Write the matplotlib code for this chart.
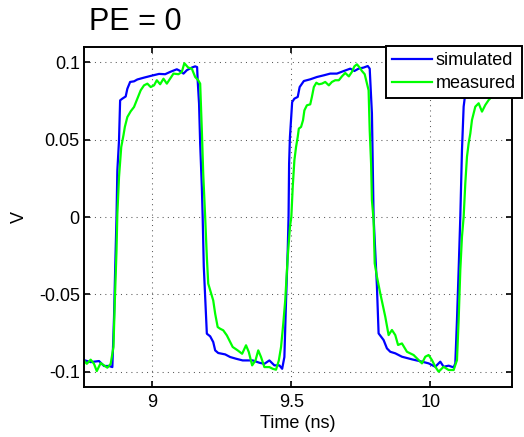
import numpy as np
import matplotlib
matplotlib.use('Agg')
import matplotlib.pyplot as plt

plt.rcParams['font.family'] = ['Liberation Sans', 'DejaVu Sans']

# simulated waveform (ns, V)
sim_t = [8.754, 8.778, 8.808, 8.826, 8.844, 8.856, 8.862, 8.866, 8.871, 8.874,
         8.880, 8.884, 8.892, 8.904, 8.910, 8.920, 8.934, 8.946, 8.970, 8.994,
         9.024, 9.046, 9.064, 9.088, 9.100, 9.112, 9.124, 9.142, 9.154, 9.161,
         9.163, 9.168, 9.172, 9.178, 9.181, 9.185, 9.190, 9.196, 9.208, 9.219,
         9.226, 9.237, 9.262, 9.280, 9.301, 9.325, 9.361, 9.385, 9.403, 9.421,
         9.439, 9.457, 9.467, 9.475, 9.481, 9.487, 9.490, 9.492, 9.495, 9.503,
         9.511, 9.523, 9.530, 9.545, 9.568, 9.592, 9.617, 9.640, 9.664, 9.689,
         9.712, 9.727, 9.742, 9.760, 9.775, 9.782, 9.787, 9.790, 9.796, 9.808,
         9.814, 9.832, 9.844, 9.856, 9.874, 9.898, 9.934, 9.970, 9.994, 10.018,
         10.036, 10.048, 10.066, 10.084, 10.090, 10.096, 10.102, 10.108, 10.114, 10.120,
         10.126, 10.143, 10.179, 10.233, 10.294, 10.320]
sim_v = [-0.0926, -0.0939, -0.0932, -0.0964, -0.0964, -0.0971, -0.065, -0.035, 0.0, 0.030,
         0.0496, 0.0755, 0.0766, 0.0780, 0.0830, 0.0874, 0.0878, 0.0890, 0.0902, 0.0913,
         0.0926, 0.0924, 0.0939, 0.0956, 0.0945, 0.0928, 0.0950, 0.0967, 0.0975, 0.0970,
         0.0885, 0.0733, 0.0474, 0.0194, 0.0, -0.032, -0.0518, -0.0755, -0.0772, -0.0809,
         -0.0863, -0.0880, -0.0889, -0.0906, -0.0917, -0.0928, -0.0928, -0.0943, -0.0950, -0.0928,
         -0.0960, -0.0960, -0.0982, -0.0906, -0.0540, -0.0216, 0.0, 0.0345, 0.0518, 0.0744,
         0.0766, 0.0777, 0.0841, 0.0880, 0.0891, 0.0906, 0.0917, 0.0928, 0.0928, 0.0945,
         0.0960, 0.0945, 0.0960, 0.0967, 0.0977, 0.0960, 0.0777, 0.0669, 0.0, -0.045,
         -0.0753, -0.0796, -0.0850, -0.0872, -0.0882, -0.0904, -0.0921, -0.0936, -0.0947, -0.0969,
         -0.0936, -0.0969, -0.0962, -0.0973, -0.0947, -0.0667, -0.0343, 0.0, 0.0434, 0.0714,
         0.0800, 0.0830, 0.0860, 0.0880, 0.0890, 0.0900]

# measured waveform (ns, V)
meas_t = [8.754, 8.764, 8.778, 8.790, 8.800, 8.814, 8.826, 8.838, 8.850, 8.860,
          8.865, 8.871, 8.874, 8.880, 8.888, 8.896, 8.901, 8.910, 8.922, 8.934,
          8.946, 8.958, 8.970, 8.982, 8.994, 9.006, 9.016, 9.028, 9.040, 9.052,
          9.064, 9.076, 9.094, 9.106, 9.115, 9.129, 9.142, 9.154, 9.165, 9.172,
          9.178, 9.183, 9.190, 9.196, 9.201, 9.208, 9.219, 9.226, 9.235, 9.244,
          9.255, 9.268, 9.277, 9.289, 9.307, 9.323, 9.337, 9.347, 9.359, 9.371,
          9.381, 9.391, 9.403, 9.421, 9.433, 9.445, 9.455, 9.463, 9.471, 9.478,
          9.487, 9.495, 9.500, 9.505, 9.511, 9.517, 9.523, 9.527, 9.535, 9.542,
          9.547, 9.556, 9.568, 9.574, 9.581, 9.590, 9.599, 9.610, 9.622, 9.635,
          9.646, 9.658, 9.671, 9.682, 9.694, 9.707, 9.718, 9.727, 9.736, 9.746,
          9.754, 9.764, 9.772, 9.778, 9.782, 9.787, 9.790, 9.796, 9.800, 9.808,
          9.820, 9.838, 9.850, 9.862, 9.874, 9.884, 9.898, 9.916, 9.940, 9.958,
          9.970, 9.982, 9.994, 10.006, 10.018, 10.030, 10.048, 10.066, 10.084, 10.096,
          10.102, 10.108, 10.114, 10.120, 10.126, 10.132, 10.138, 10.144, 10.150, 10.162,
          10.174, 10.186, 10.198, 10.210, 10.233, 10.269, 10.305]
meas_v = [-0.0928, -0.0950, -0.0923, -0.0950, -0.0997, -0.0945, -0.0960, -0.0975, -0.0950, -0.0841,
          -0.0540, -0.0216, 0.0020, 0.0259, 0.0453, 0.0529, 0.0583, 0.0647, 0.0684, 0.0712,
          0.0766, 0.0820, 0.0852, 0.0863, 0.0841, 0.0852, 0.0885, 0.0859, 0.0895, 0.0863,
          0.0895, 0.0928, 0.0924, 0.0939, 0.0995, 0.0967, 0.0960, 0.0906, 0.0885, 0.0863,
          0.0561, 0.0280, 0.0, -0.0259, -0.0431, -0.0474, -0.0540, -0.0626, -0.0712, -0.0723,
          -0.0733, -0.0766, -0.0798, -0.0841, -0.0863, -0.0885, -0.0830, -0.0874, -0.0960, -0.0928,
          -0.0863, -0.0906, -0.0971, -0.0971, -0.0982, -0.0988, -0.0928, -0.0841, -0.0690, -0.0540,
          -0.0259, -0.0065, 0.0, 0.0194, 0.0367, 0.0453, 0.0518, 0.0572, 0.0583, 0.0626,
          0.0690, 0.0723, 0.0729, 0.0777, 0.0841, 0.0869, 0.0859, 0.0863, 0.0874, 0.0852,
          0.0874, 0.0885, 0.0885, 0.0910, 0.0932, 0.0910, 0.0939, 0.0975, 0.0988, 0.0967,
          0.0945, 0.0924, 0.0863, 0.0820, 0.0561, 0.0345, 0.0108, -0.0020, -0.0300, -0.0386,
          -0.0494, -0.0645, -0.0764, -0.0731, -0.0764, -0.0828, -0.0818, -0.0872, -0.0893, -0.0926,
          -0.0947, -0.0904, -0.0893, -0.0926, -0.0969, -0.1001, -0.0969, -0.0990, -0.0990, -0.0926,
          -0.0667, -0.0343, -0.0127, 0.0, 0.0218, 0.0390, 0.0477, 0.0540, 0.0628, 0.0714,
          0.0736, 0.0682, 0.0725, 0.0757, 0.0800, 0.0830, 0.0850]

x_ticks = [9, 9.5, 10]
y_ticks = [-0.1, -0.05, 0, 0.05, 0.1]
y_ticklabels = ['-0.1', '-0.05', '0', '0.05', '0.1']

fig = plt.figure(figsize=(5.24, 4.37), dpi=100)
ax = fig.add_axes([0.1603, 0.1144, 0.8168, 0.7780])

ax.plot(sim_t, sim_v, color=(0, 0, 1), lw=1.6, label='simulated')
ax.plot(meas_t, meas_v, color=(0, 1, 0), lw=1.6, label='measured')

ax.set_xlim(8.754, 10.294)
ax.set_ylim(-0.11, 0.11)
ax.set_xticks(x_ticks)
ax.set_xticklabels(['9', '9.5', '10'])
ax.set_yticks(y_ticks)
ax.set_yticklabels(y_ticklabels)
ax.tick_params(direction='in', length=4, width=1.2, top=True, right=True,
               labelsize=13, pad=5)
ax.tick_params(axis='y', pad=3)
for s in ax.spines.values():
    s.set_linewidth(1.4)
ax.grid(True, color='0.35', linestyle=(0, (1, 4)), linewidth=0.75)

ax.set_xlabel('Time (ns)', fontsize=13, labelpad=3)
ax.set_ylabel('V', fontsize=13, labelpad=8)
fig.text(0.169, 0.931, 'PE = 0', fontsize=22, va='baseline', ha='left')

leg = ax.legend(loc='upper right', bbox_to_anchor=(1.023, 1.003), borderaxespad=0,
                fontsize=13, fancybox=False, framealpha=1, edgecolor='k',
                handlelength=2.2, handletextpad=0.2, labelspacing=0.32,
                borderpad=0.35)
leg.get_frame().set_linewidth(1.4)
leg.set_zorder(5)

fig.savefig('out.png', dpi=100)
